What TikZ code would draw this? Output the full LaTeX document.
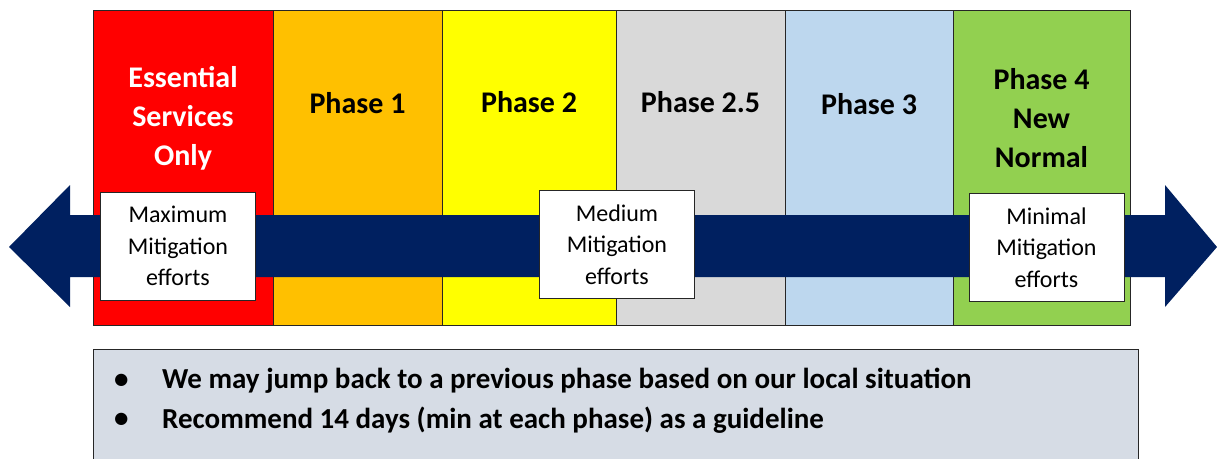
\documentclass[tikz,border=0pt]{standalone}
\usepackage{fontspec}
\setmainfont{Carlito}
\usetikzlibrary{positioning}

\definecolor{essred}{HTML}{FF0000}
\definecolor{phaseorange}{HTML}{FFC000}
\definecolor{phaseyellow}{HTML}{FFFF00}
\definecolor{phasegray}{HTML}{D9D9D9}
\definecolor{phaseblue}{HTML}{BDD7EE}
\definecolor{phasegreen}{HTML}{92D050}
\definecolor{arrownavy}{HTML}{002060}
\definecolor{notegray}{HTML}{D6DCE5}

\tikzset{
  phasecol/.style={draw=black!85, line width=0.9pt, anchor=north west, inner sep=0pt,
    outer sep=0pt, minimum height=315pt},
  phasehead/.style={font=\fontsize{30}{39}\selectfont\bfseries, align=center},
  effortbox/.style={draw=black!85, fill=white, line width=0.9pt, align=center,
    font=\fontsize{24}{31.5}\selectfont, minimum width=155pt, minimum height=108pt, inner sep=0pt},
  notetext/.style={font=\fontsize{29}{35}\selectfont\bfseries, anchor=west, inner sep=0pt}
}

\begin{document}
\begin{tikzpicture}[x=1pt, y=-1pt]
\useasboundingbox (0,0) rectangle (1217,458);

% phase columns
\node[phasecol, fill=essred, minimum width=180pt] (ess) at (93,10) {};
\node[phasecol, fill=phaseorange, minimum width=169pt] (p1) at (ess.north east) {};
\node[phasecol, fill=phaseyellow, minimum width=174pt] (p2) at (p1.north east) {};
\node[phasecol, fill=phasegray, minimum width=169pt] (p25) at (p2.north east) {};
\node[phasecol, fill=phaseblue, minimum width=168pt] (p3) at (p25.north east) {};
\node[phasecol, fill=phasegreen, minimum width=177pt] (p4) at (p3.north east) {};

% headings
\node[phasehead, text=white] (essT) at (183,118) {Essential\\Services\\Only};
\node[phasehead] (p1T) at (357.5,103) {Phase 1};
\node[phasehead] (p2T) at (529,102) {Phase 2};
\node[phasehead] (p25T) at (700.5,102) {Phase 2.5};
\node[phasehead] (p3T) at (869,104) {Phase 3};
\node[phasehead] (p4T) at (1041.5,118) {Phase 4\\New\\Normal};

% double arrow
\fill[arrownavy] (9,247) -- (70,185) -- (70,215) -- (1165,215) -- (1165,185)
  -- (1217,247) -- (1165,307) -- (1165,277) -- (70,277) -- (70,307) -- cycle;

% mitigation boxes
\node[effortbox] (maxM) at (178,246) {Maximum\\Mitigation\\efforts};
\node[effortbox] (medM) at (617,244.5) {Medium\\Mitigation\\efforts};
\node[effortbox] (minM) at (1046.5,247.5) {Minimal\\Mitigation\\efforts};

% note box
\node[draw=black!85, fill=notegray, line width=0.9pt, anchor=north west, inner sep=0pt,
  minimum width=1045pt, minimum height=130pt] (note) at (93,349) {};
\node[notetext] (b1) at (114,381) {\textbullet};
\node[notetext] (line1) at (162,381) {We may jump back to a previous phase based on our local situation};
\node[notetext] (b2) at (114,420) {\textbullet};
\node[notetext] (line2) at (162,420) {Recommend 14 days (min at each phase) as a guideline};
\end{tikzpicture}
\end{document}
